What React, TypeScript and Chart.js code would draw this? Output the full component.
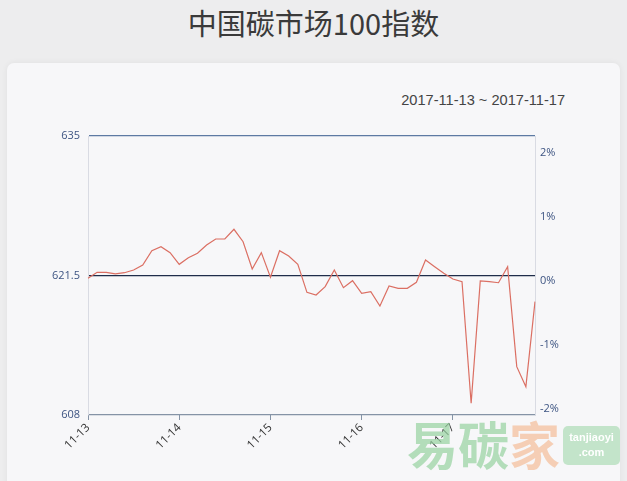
import React, { useEffect, useRef } from "react";
import { Chart, registerables } from "chart.js";

Chart.register(...registerables);

const days = ["11-13", "11-14", "11-15", "11-16", "11-17"];
const pointsPerDay = 10;
const indexValues = [
  621.23, 621.81, 621.81, 621.65, 621.77, 622.03, 622.52, 623.9, 624.29, 623.71,
  622.58, 623.22, 623.65, 624.45, 625.03, 625.03, 625.97, 624.77, 622.13, 623.71,
  621.33, 623.9, 623.39, 622.58, 619.87, 619.61, 620.42, 622.03, 620.32, 621.0,
  619.78, 619.93, 618.55, 620.48, 620.26, 620.26, 620.84, 623.0, 622.35, 621.71,
  621.16, 620.9, 609.13, 620.97, 620.9, 620.8, 622.35, 612.68, 610.74, 618.97,
];
const leftTicks = [608, 621.5, 635];
const pctTicks = [-2, -1, 0, 1, 2];
const title = "中国碳市场100指数";
const dateRange = "2017-11-13 ~ 2017-11-17";

const labels = indexValues.map(
  (_, i) => `${days[Math.floor(i / pointsPerDay)]}#${i % pointsPerDay}`
);

export default function App() {
  const ref = useRef<HTMLCanvasElement | null>(null);

  useEffect(() => {
    if (!ref.current) return;
    const gridColors: Record<string, string> = {
      "608": "#8593a6",
      "621.5": "#1f2d4a",
      "635": "#5d7aa3",
    };
    const chart = new Chart(ref.current, {
      type: "line",
      data: {
        labels,
        datasets: [
          {
            data: indexValues,
            borderColor: "#db6f63",
            borderWidth: 1.2,
            pointRadius: 0,
            tension: 0,
            fill: false,
            yAxisID: "y",
          },
        ],
      },
      options: {
        responsive: false,
        animation: false,
        layout: { padding: { top: 136, left: 0, right: 0, bottom: 0 } },
        plugins: { legend: { display: false }, tooltip: { enabled: false } },
        scales: {
          x: {
            type: "category",
            offset: false,
            afterBuildTicks: (s: any) => {
              s.ticks = s.ticks.filter((t: any) => t.value % pointsPerDay === 0);
            },
            afterFit: (s: any) => {
              s.height = 66;
            },
            ticks: {
              autoSkip: false,
              minRotation: 45,
              maxRotation: 45,
              color: "#333333",
              padding: 1,
              font: { family: "'Open Sans', 'DejaVu Sans', sans-serif", size: 11.5 },
              callback: (v: any) => days[Math.floor(Number(v) / pointsPerDay)],
            },
            grid: {
              drawOnChartArea: false,
              drawTicks: true,
              tickLength: 5,
              color: "#8593a6",
            },
            border: { display: false },
          },
          y: {
            position: "left",
            min: 608,
            max: 635,
            afterBuildTicks: (s: any) => {
              s.ticks = leftTicks.map((v) => ({ value: v }));
            },
            afterFit: (s: any) => {
              s.width = 88;
            },
            ticks: {
              color: "#3d5482",
              padding: 8,
              font: { family: "'Open Sans', 'DejaVu Sans', sans-serif", size: 11 },
              callback: (v: any) => String(v),
            },
            grid: {
              drawTicks: false,
              lineWidth: 1.3,
              color: (ctx: any) => gridColors[String(ctx.tick?.value)] || "#8593a6",
            },
            border: { display: true, color: "#d9dbe3", width: 1 },
          },
          y1: {
            position: "right",
            min: -2.09,
            max: 2.26,
            afterBuildTicks: (s: any) => {
              s.ticks = pctTicks.map((v) => ({ value: v }));
            },
            afterFit: (s: any) => {
              s.width = 92;
            },
            ticks: {
              color: "#3d5482",
              padding: 5,
              font: { family: "'Open Sans', 'DejaVu Sans', sans-serif", size: 11 },
              callback: (v: any) => `${v}%`,
            },
            grid: { drawOnChartArea: false, drawTicks: false },
            border: { display: true, color: "#d9dbe3", width: 1 },
          },
        },
      },
    });
    return () => chart.destroy();
  }, []);

  return (
    <div
      style={{
        position: "absolute",
        left: 0,
        top: 0,
        width: 627,
        height: 481,
        overflow: "hidden",
        background: "#ededee",
      }}
    >
      <div
        style={{
          position: "absolute",
          left: 0,
          top: 6,
          width: 627,
          textAlign: "center",
          fontFamily: "'Noto Sans CJK SC', sans-serif",
          fontSize: 29,
          lineHeight: "32px",
          color: "#3a3a3a",
        }}
      >
        {title}
      </div>
      <div
        style={{
          position: "absolute",
          left: 7,
          top: 63,
          width: 613,
          height: 440,
          borderRadius: 7,
          background: "#f7f7f9",
          boxShadow: "0 0 6px rgba(0,0,0,0.06)",
        }}
      />
      <div
        style={{
          position: "absolute",
          right: 627 - 565,
          top: 91,
          fontFamily: "'Liberation Sans', Arial, sans-serif",
          fontSize: 14.6,
          lineHeight: "18px",
          color: "#444444",
          whiteSpace: "nowrap",
        }}
      >
        {dateRange}
      </div>
      <canvas
        ref={ref}
        width={627}
        height={481}
        style={{ position: "absolute", left: 0, top: 0, width: 627, height: 481 }}
      />
      <div
        style={{
          position: "absolute",
          left: 407,
          top: 414,
          fontFamily: "'Noto Sans CJK SC', sans-serif",
          fontSize: 51,
          lineHeight: "58px",
          fontWeight: 700,
          whiteSpace: "nowrap",
          pointerEvents: "none",
        }}
      >
        <span style={{ color: "rgba(150,210,160,0.7)" }}>易碳</span>
        <span style={{ color: "rgba(245,185,145,0.65)" }}>家</span>
      </div>
      <div
        style={{
          position: "absolute",
          left: 563,
          top: 426,
          width: 57,
          height: 39,
          borderRadius: 5,
          background: "rgba(160,215,170,0.6)",
          color: "#ffffff",
          fontFamily: "'Liberation Sans', Arial, sans-serif",
          fontWeight: 700,
          fontSize: 11,
          lineHeight: "15px",
          textAlign: "center",
          paddingTop: 4,
          boxSizing: "border-box",
          pointerEvents: "none",
        }}
      >
        tanjiaoyi
        <br />
        .com
      </div>
    </div>
  );
}
